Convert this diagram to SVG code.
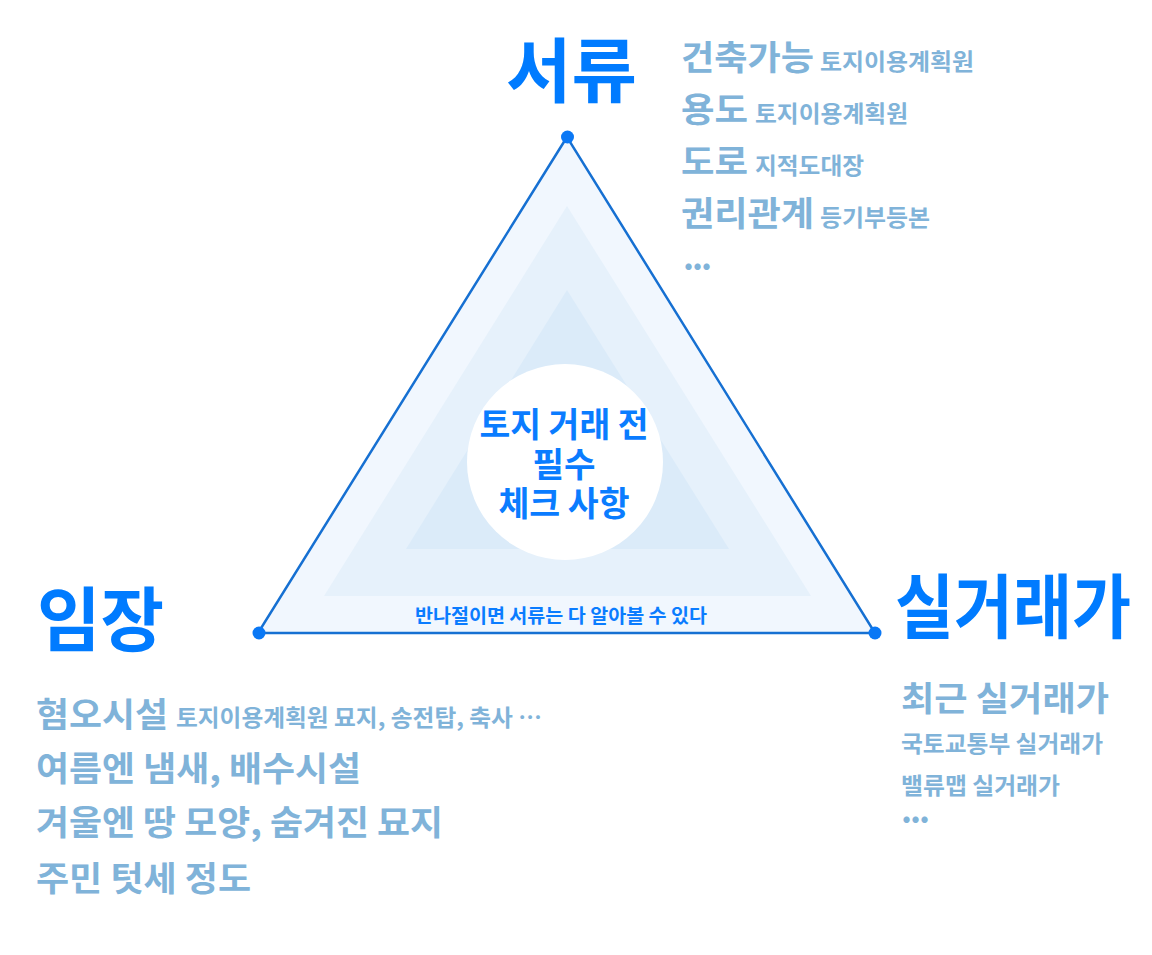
<svg xmlns="http://www.w3.org/2000/svg" width="1152" height="955" viewBox="0 0 1152 955">
<style>
text{font-family:"Noto Sans CJK KR","Noto Sans",sans-serif;font-weight:700}
.big{font-size:70px;fill:#007bff}
.item{font-size:34px;fill:#80b3d9}
.sub{font-size:23px;fill:#80b3d9}
.ctr{font-size:34px;fill:#0a7cff;text-anchor:middle}
.base{font-size:19px;fill:#0a7cff;text-anchor:middle}
.dot{fill:#0a78f5}
.edge{fill:none;stroke:#1670d2;stroke-width:2.5;stroke-linejoin:miter}
</style>
<rect width="1152" height="955" fill="#ffffff"/>
<g id="triangle">
<polygon points="567,137 258,633 875,633" fill="#f1f7fe"/>
<polygon points="567,206 324,596 811,596" fill="#e6f1fb"/>
<polygon points="567,290 406,549 729,549" fill="#dbebf9"/>
</g>
<g id="connectors">
<polygon class="edge" points="567,137 258,633 875,633"/>
</g>
<g id="node-center">
<circle cx="565" cy="462" r="98" fill="#ffffff"/>
<text class="ctr" x="564" y="437" textLength="169" lengthAdjust="spacingAndGlyphs">토지 거래 전</text>
<text class="ctr" x="564" y="477" textLength="63" lengthAdjust="spacingAndGlyphs">필수</text>
<text class="ctr" x="564" y="516" textLength="131" lengthAdjust="spacingAndGlyphs">체크 사항</text>
</g>
<g id="node-base-note">
<text class="base" x="561" y="623" textLength="292" lengthAdjust="spacingAndGlyphs">반나절이면 서류는 다 알아볼 수 있다</text>
</g>
<g id="node-seoryu">
<circle class="dot" cx="567.5" cy="137" r="6.5"/>
<text class="big" x="506" y="97" textLength="131" lengthAdjust="spacingAndGlyphs">서류</text>
<text class="item" x="681" y="70" textLength="133" lengthAdjust="spacingAndGlyphs">건축가능</text>
<text class="sub" x="820" y="70" textLength="154" lengthAdjust="spacingAndGlyphs">토지이용계획원</text>
<text class="item" x="681" y="122" textLength="67" lengthAdjust="spacingAndGlyphs">용도</text>
<text class="sub" x="755" y="122" textLength="153" lengthAdjust="spacingAndGlyphs">토지이용계획원</text>
<text class="item" x="681" y="174" textLength="67" lengthAdjust="spacingAndGlyphs">도로</text>
<text class="sub" x="755" y="174" textLength="109" lengthAdjust="spacingAndGlyphs">지적도대장</text>
<text class="item" x="681" y="226" textLength="133" lengthAdjust="spacingAndGlyphs">권리관계</text>
<text class="sub" x="820" y="226" textLength="110" lengthAdjust="spacingAndGlyphs">등기부등본</text>
<text class="item" x="683" y="270" textLength="29" lengthAdjust="spacing">...</text>
</g>
<g id="node-imjang">
<circle class="dot" cx="259" cy="633" r="6.5"/>
<text class="big" x="37" y="646" textLength="127" lengthAdjust="spacingAndGlyphs">임장</text>
<text class="item" x="36" y="727" textLength="132" lengthAdjust="spacingAndGlyphs">혐오시설</text>
<text class="sub" x="176" y="726" textLength="366" lengthAdjust="spacingAndGlyphs">토지이용계획원 묘지, 송전탑, 축사 …</text>
<text class="item" x="36" y="781" textLength="325" lengthAdjust="spacingAndGlyphs">여름엔 냄새, 배수시설</text>
<text class="item" x="36" y="835" textLength="407" lengthAdjust="spacingAndGlyphs">겨울엔 땅 모양, 숨겨진 묘지</text>
<text class="item" x="36" y="891" textLength="215" lengthAdjust="spacingAndGlyphs">주민 텃세 정도</text>
</g>
<g id="node-silgeoraega">
<circle class="dot" cx="875" cy="633" r="6.5"/>
<text class="big" x="895" y="633" textLength="236" lengthAdjust="spacingAndGlyphs">실거래가</text>
<text class="item" x="901" y="711" textLength="208" lengthAdjust="spacingAndGlyphs">최근 실거래가</text>
<text class="sub" x="901" y="752" textLength="202" lengthAdjust="spacingAndGlyphs">국토교통부 실거래가</text>
<text class="sub" x="901" y="794" textLength="159" lengthAdjust="spacingAndGlyphs">밸류맵 실거래가</text>
<text class="item" x="901" y="823" textLength="29" lengthAdjust="spacing">...</text>
</g>
</svg>
